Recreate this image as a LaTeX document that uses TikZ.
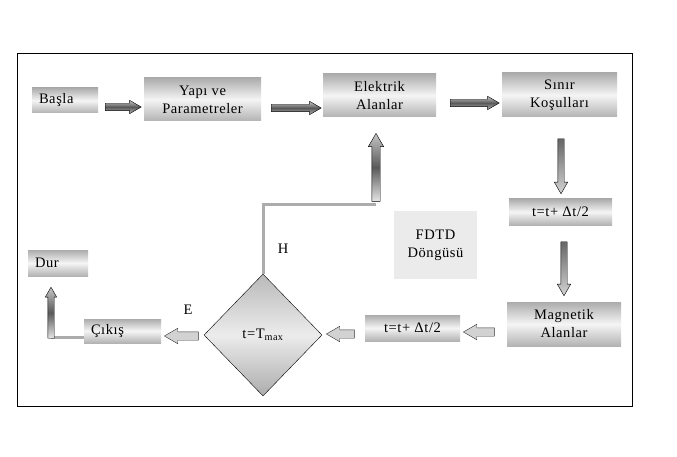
\documentclass[tikz,border=0pt]{standalone}
\usepackage{fontspec}
\setmainfont{Liberation Serif}[LetterSpace=4]
\usetikzlibrary{shapes.geometric,shapes.arrows,calc}
\tikzset{box/.style={rectangle, top color=gray!65, bottom color=gray!60, middle color=gray!8,
           inner sep=0pt, align=center, font=\fontsize{14.5}{18}\selectfont},
         decision/.style={diamond, draw=black, thin, top color=gray!55, bottom color=gray!65,
           middle color=gray!15, inner sep=0pt, font=\fontsize{14.5}{18}\selectfont},
         fat/.style={single arrow, draw=black, thin, single arrow tip angle=60},
         fatright/.style={fat, inner sep=3.5pt, top color=gray!45, bottom color=gray!55,
           middle color=gray!70!black, single arrow head extend=3pt},
         fatleft/.style={fat, shape border rotate=180, inner sep=4pt, fill=gray!35,
           draw=gray!40!black, single arrow head extend=3.5pt},
         fatdown/.style={fat, shape border rotate=270, inner sep=3pt, top color=gray!80!black,
           bottom color=gray!35, single arrow head extend=3.5pt},
         fatup/.style={fat, shape border rotate=90, inner sep=4pt, top color=gray!45,
           bottom color=gray!20, middle color=gray!70!black, single arrow head extend=3.5pt},
         link/.style={draw=gray!65, line width=3pt},
         lbl/.style={font=\fontsize{14.5}{18}\selectfont}
}
\begin{document}
\begin{tikzpicture}[x=1pt,y=-1pt]
  \useasboundingbox (0,0) rectangle (677,457);
  \draw[black, thin] (17,53) rectangle (632,406);
  % blocks of the loop
  \node[box, minimum width=66pt, minimum height=25pt, text width=52pt, align=left] (basla) at (65,100.5) {Başla};
  \node[box, minimum width=117pt, minimum height=43pt] (yapi) at (202.5,99.5) {Yapı ve\\Parametreler};
  \node[box, minimum width=113pt, minimum height=43pt] (elektrik) at (379.5,95.5) {Elektrik\\Alanlar};
  \node[box, minimum width=115pt, minimum height=44pt] (sinir) at (559.5,95) {Sınır\\Koşulları};
  \node[box, minimum width=103pt, minimum height=26pt] (dt1) at (560.5,212) {t=t+ Δt/2};
  \node[rectangle, fill=gray!16, minimum width=83pt, minimum height=68pt, align=center,
        lbl] (fdtd) at (435.5,245) {FDTD\\Döngüsü};
  \node[box, minimum width=114pt, minimum height=44pt] (magnetik) at (564,324) {Magnetik\\Alanlar};
  \node[box, minimum width=95pt, minimum height=26pt] (dt2) at (412.5,328) {t=t+ Δt/2};
  \node[decision, minimum width=118pt, minimum height=122pt] (karar) at (263,335) {t=T\textsubscript{max}};
  \node[box, minimum width=77pt, minimum height=24pt, text width=63pt, align=left] (cikis) at (122.5,331) {Çıkış};
  \node[box, minimum width=60pt, minimum height=26pt, text width=46pt, align=left] (dur) at (58,263) {Dur};
  % block arrows
  \node[fatright, minimum height=36pt] (a1) at (120,107) {};
  \node[fatright, minimum height=50pt] (a2) at (293,108) {};
  \node[fatright, minimum height=49pt] (a3) at (471.5,103) {};
  \node[fatdown, minimum height=55pt] (a4) at (561,163.5) {};
  \node[fatdown, minimum height=54pt] (a5) at (564,266) {};
  \node[fatleft, minimum height=31pt] (a6) at (482.5,332) {};
  \node[fatleft, minimum height=28pt] (a7) at (344,334) {};
  \node[fatleft, minimum height=34pt] (a8) at (185,336) {};
  \draw[link] (karar.north) |- (376,205);
  \node[fatup, minimum height=68pt] (a9) at (376,171) {};
  \draw[link] ([yshift=-6pt]cikis.west) -- (51,337);
  \node[fatup, minimum height=51pt, inner sep=3pt, single arrow head extend=2.5pt] (a10) at (51,315.5) {};
  \node[lbl] (h) at (283,249) {H};
  \node[lbl] (e) at (188,310) {E};
\end{tikzpicture}
\end{document}
